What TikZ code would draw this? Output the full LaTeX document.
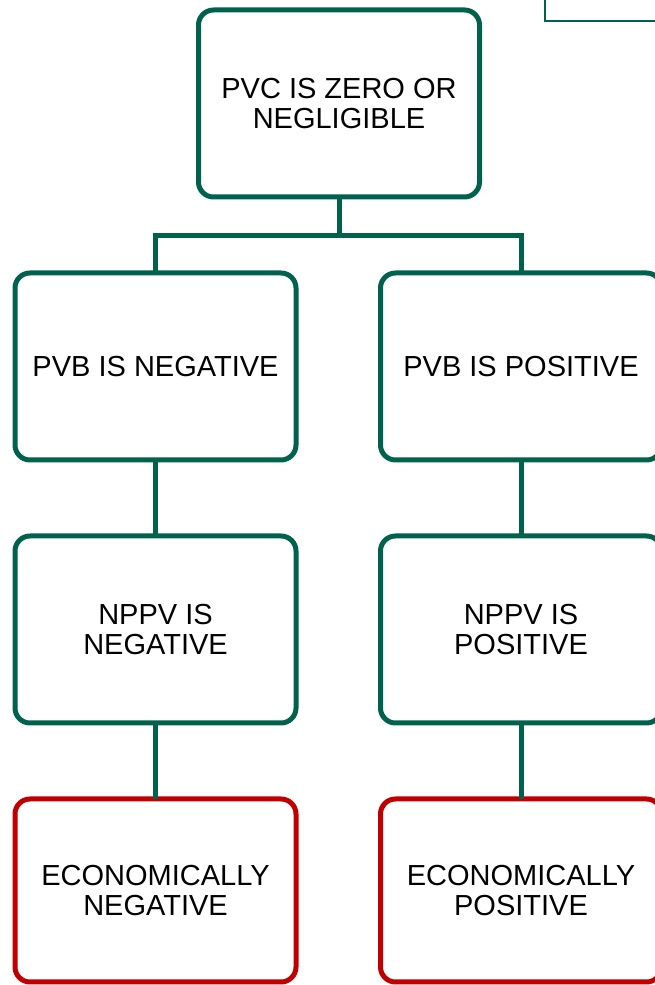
\documentclass[tikz,border=0pt]{standalone}
\usepackage{fontspec}
\setmainfont{Liberation Sans}
\usetikzlibrary{positioning}
\definecolor{pvgreen}{RGB}{0,98,77}
\definecolor{pvred}{RGB}{192,0,0}
\tikzset{
pvbox/.style={rectangle,rounded corners=15pt,draw=pvgreen,line width=5pt,minimum width=281pt,minimum height=187pt,inner sep=0pt,outer sep=0pt,align=center,font=\fontsize{29}{30}\selectfont},
endbox/.style={pvbox,draw=pvred,minimum height=183pt},
link/.style={draw=pvgreen,line width=5pt}
}
\begin{document}
\begin{tikzpicture}[x=1pt,y=1pt]
\useasboundingbox (0,0) rectangle (654,985);
\draw[pvgreen,line width=1.3pt] (545,964) rectangle (670,995);

\node[pvbox] (pvc) at (339,881.5) {PVC IS ZERO OR\\NEGLIGIBLE};
\node[pvbox] (pvbneg) at (155.5,618.5) {PVB IS NEGATIVE};
\node[pvbox] (pvbpos) at (521,618.5) {PVB IS POSITIVE};
\node[pvbox,below=76pt of pvbneg] (nppvneg) {NPPV IS\\NEGATIVE};
\node[pvbox,below=76pt of pvbpos] (nppvpos) {NPPV IS\\POSITIVE};
\node[endbox,below=76pt of nppvneg] (econneg) {ECONOMICALLY\\NEGATIVE};
\node[endbox,below=76pt of nppvpos] (econpos) {ECONOMICALLY\\POSITIVE};

\draw[link] (pvc.south) -- ++(0,-38.7) coordinate (fork);
\draw[link] (pvbneg.north) |- (fork) -| (pvbpos.north);
\draw[link] (pvbneg.south) -- (nppvneg.north);
\draw[link] (pvbpos.south) -- (nppvpos.north);
\draw[link] (nppvneg.south) -- (econneg.north);
\draw[link] (nppvpos.south) -- (econpos.north);

\end{tikzpicture}
\end{document}
